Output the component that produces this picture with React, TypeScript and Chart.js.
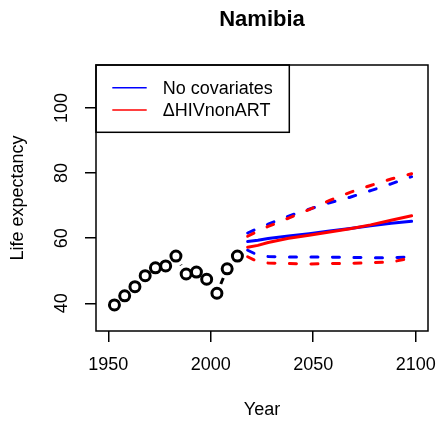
import React, { useEffect, useRef } from "react";
import { Chart, registerables } from "chart.js";

Chart.register(...registerables);

const titleText = "Namibia";
const xLabel = "Year";
const yLabel = "Life expectancy";
const xTicks = [1950, 2000, 2050, 2100];
const yTicks = [40, 60, 80, 100];
const xMin = 1944;
const xMax = 2106;
const yMin = 31.5;
const yMax = 113.2;

const obsYears = [1953, 1958, 1963, 1968, 1973, 1978, 1983, 1988, 1993, 1998, 2003, 2008, 2013];
const obsLE = [39.5, 42.3, 45.1, 48.5, 50.9, 51.5, 54.5, 49.0, 49.6, 47.4, 43.1, 50.6, 54.5];

const projYears = [2018, 2023, 2028, 2038, 2048, 2058, 2068, 2078, 2088, 2098];
const noCovMedian = [59.0, 59.4, 59.9, 60.7, 61.4, 62.2, 63.0, 63.8, 64.6, 65.2];
const noCovUpper = [61.6, 63.0, 64.3, 66.8, 68.9, 70.9, 72.6, 74.6, 76.7, 78.9];
const noCovLower = [56.3, 54.8, 54.4, 54.2, 54.2, 54.2, 54.1, 54.0, 54.0, 54.3];
const hivMedian = [57.2, 57.8, 58.7, 60.0, 60.9, 61.9, 62.9, 64.1, 65.5, 66.9];
const hivUpper = [60.6, 62.2, 63.6, 66.2, 68.8, 71.6, 74.1, 76.2, 78.2, 79.8];
const hivLower = [54.3, 52.8, 52.4, 52.2, 52.1, 52.2, 52.3, 52.5, 52.7, 53.9];

const legendLabels = ["No covariates", "\u0394HIVnonART"];
const legendColors = ["#0000FF", "#FF0000"];

const FONT = "'Liberation Sans', Arial, Helvetica, sans-serif";

const pts = (xs: number[], ys: number[]) => xs.map((x, i) => ({ x, y: ys[i] }));

const gapLinePlugin = {
  id: "gapLine",
  beforeDatasetsDraw(chart: any) {
    const meta = chart.getDatasetMeta(0);
    const ctx = chart.ctx;
    const gap = 10;
    ctx.save();
    ctx.strokeStyle = "#000";
    ctx.lineWidth = 3;
    ctx.lineCap = "butt";
    for (let i = 0; i < meta.data.length - 1; i++) {
      const a = meta.data[i];
      const b = meta.data[i + 1];
      const dx = b.x - a.x;
      const dy = b.y - a.y;
      const d = Math.hypot(dx, dy);
      if (d <= 2 * gap) continue;
      const ux = dx / d;
      const uy = dy / d;
      ctx.beginPath();
      ctx.moveTo(a.x + ux * gap, a.y + uy * gap);
      ctx.lineTo(b.x - ux * gap, b.y - uy * gap);
      ctx.stroke();
    }
    ctx.restore();
  },
};

const boxLegendPlugin = {
  id: "boxLegend",
  afterDraw(chart: any) {
    const { ctx, chartArea } = chart;
    ctx.save();
    ctx.strokeStyle = "#000";
    ctx.lineWidth = 1.5;
    ctx.strokeRect(chartArea.left, chartArea.top, chartArea.right - chartArea.left, chartArea.bottom - chartArea.top);
    // legend
    const lx = chartArea.left;
    const ly = chartArea.top;
    const lw = 193.3;
    const lh = 67.3;
    ctx.strokeRect(lx, ly, lw, lh);
    ctx.font = `18px ${FONT}`;
    ctx.textBaseline = "middle";
    ctx.textAlign = "left";
    legendLabels.forEach((label, i) => {
      const y = ly + 22.7 + i * 22.3;
      ctx.strokeStyle = legendColors[i];
      ctx.lineWidth = 1.5;
      ctx.beginPath();
      ctx.moveTo(lx + 16.3, y);
      ctx.lineTo(lx + 50.7, y);
      ctx.stroke();
      ctx.fillStyle = "#000";
      ctx.fillText(label, lx + 66.7, y + 1);
    });
    ctx.restore();
  },
};

export default function App() {
  const ref = useRef<HTMLCanvasElement | null>(null);
  useEffect(() => {
    if (!ref.current) return;
    const solid = (data: number[], color: string, order: number) => ({
      data: pts(projYears, data),
      borderColor: color,
      borderWidth: 3,
      pointRadius: 0,
      tension: 0,
      borderCapStyle: "round",
      fill: false,
      order,
    });
    const dashed = (data: number[], color: string, order: number) => ({
      ...solid(data, color, order),
      borderDash: [7, 14.5],
    });
    const chart = new Chart(ref.current, {
      type: "line",
      data: {
        datasets: [
          {
            data: pts(obsYears, obsLE),
            showLine: false,
            pointRadius: 5,
            pointBorderWidth: 3,
            pointBorderColor: "#000",
            pointBackgroundColor: "#fff",
            borderColor: "#000",
            order: 5,
          } as any,
          solid(noCovMedian, legendColors[0], 3),
          dashed(noCovUpper, legendColors[0], 3),
          dashed(noCovLower, legendColors[0], 3),
          solid(hivMedian, legendColors[1], 1),
          dashed(hivUpper, legendColors[1], 1),
          dashed(hivLower, legendColors[1], 1),
        ],
      },
      options: {
        animation: false,
        responsive: false,
        events: [],
        layout: { padding: { left: 0, right: 11, top: 0, bottom: 0 } },
        plugins: {
          legend: { display: false },
          tooltip: { enabled: false },
          title: {
            display: true,
            text: titleText,
            fullSize: false,
            color: "#000",
            font: { family: FONT, size: 22, weight: "bold" },
            padding: { top: 7, bottom: 31.6 },
          },
        },
        scales: {
          x: {
            type: "linear",
            min: xMin,
            max: xMax,
            afterBuildTicks: (s: any) => {
              s.ticks = xTicks.map((v) => ({ value: v }));
            },
            afterFit: (s: any) => {
              s.height = 91;
              s.paddingLeft = 0;
              s.paddingRight = 0;
            },
            border: { display: false },
            grid: {
              display: true,
              drawOnChartArea: false,
              drawTicks: true,
              tickLength: 11,
              color: "#000",
              lineWidth: 1.5,
            },
            ticks: {
              color: "#000",
              font: { family: FONT, size: 18 },
              padding: 12,
              maxRotation: 0,
              minRotation: 0,
              callback: (v: any) => String(v),
            },
            title: {
              display: true,
              text: xLabel,
              color: "#000",
              font: { family: FONT, size: 18 },
              padding: { top: 0, bottom: 1.5 },
            },
          },
          y: {
            type: "linear",
            min: yMin,
            max: yMax,
            afterBuildTicks: (s: any) => {
              s.ticks = yTicks.map((v) => ({ value: v }));
            },
            afterFit: (s: any) => {
              s.width = 96;
              s.paddingTop = 0;
              s.paddingBottom = 0;
            },
            border: { display: false },
            grid: {
              display: true,
              drawOnChartArea: false,
              drawTicks: true,
              tickLength: 11,
              color: "#000",
              lineWidth: 1.5,
            },
            ticks: {
              color: "#000",
              font: { family: FONT, size: 18 },
              padding: 7.5,
              crossAlign: "center",
              minRotation: 90,
              maxRotation: 90,
              callback: (v: any) => String(v),
            },
            title: {
              display: true,
              text: yLabel,
              color: "#000",
              font: { family: FONT, size: 18 },
              padding: { top: 7.5, bottom: 0 },
            },
          },
        },
      } as any,
      plugins: [gapLinePlugin, boxLegendPlugin],
    });
    return () => chart.destroy();
  }, []);
  return (
    <div style={{ position: "absolute", left: 0, top: 0, width: 439, height: 422, background: "#fff" }}>
      <canvas ref={ref} width={439} height={422} style={{ width: 439, height: 422 }} />
    </div>
  );
}
